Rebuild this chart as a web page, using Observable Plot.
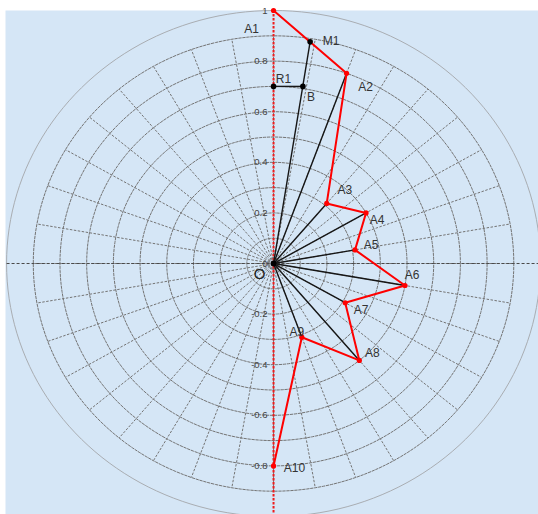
<!DOCTYPE html>
<html>
<head>
<meta charset="utf-8">
<script src="https://cdn.jsdelivr.net/npm/d3@7"></script>
<script src="https://cdn.jsdelivr.net/npm/@observablehq/plot@0.6"></script>
<style>
  html, body { margin: 0; padding: 0; background: #fff; }
  #chart svg { display: block; }
</style>
</head>
<body>
<div id="chart"></div>
<script>
// Polygon vertices A1..A10 in polar form: angle (degrees from +x axis) and radius
const vertexNames  = ["A1", "A2", "A3", "A4", "A5", "A6", "A7", "A8", "A9", "A10"];
const vertexAngles = [90, 70, 50, 30, 10, -10, -30, -50, -70, -90];
const vertexRadii  = [1, 0.8, 0.31, 0.4, 0.31, 0.5, 0.31, 0.5, 0.31, 0.8];

// Construction points (cartesian)
const auxNames = ["M1", "R1", "B"];
const auxX     = [0.137, 0, 0.11];
const auxY     = [0.876, 0.7, 0.7];

// Polar grid
const ringRadii   = [0.1, 0.2, 0.3, 0.4, 0.5, 0.6, 0.7, 0.8, 0.9];
const outerRadius = 1;
const spokeStep   = 10; // degrees between spokes

// Vertical axis ticks
const tickValues = [1, 0.8, 0.6, 0.4, 0.2, 0, -0.2, -0.4, -0.6, -0.8, -1];
const tickLabels = ["1", "0.8", "0.6", "0.4", "0.2", "0", "-0.2", "-0.4", "-0.6", "-0.8", "-1"];

// ---- derived tables ----
const rad = d => d * Math.PI / 180;
const vertices = vertexNames.map((name, i) => ({
  name,
  x: vertexRadii[i] * Math.cos(rad(vertexAngles[i])),
  y: vertexRadii[i] * Math.sin(rad(vertexAngles[i]))
}));
const aux = auxNames.map((name, i) => ({name, x: auxX[i], y: auxY[i]}));
const byName = Object.fromEntries([...vertices, ...aux].map(p => [p.name, p]));

// segments drawn from the origin O
const rays = ["M1", "A2", "A3", "A4", "A5", "A6", "A7", "A8", "A9"].map(n => byName[n]);

function circle(r, key) {
  return d3.range(0, 361, 2).map(a => ({key, x: r * Math.cos(rad(a)), y: r * Math.sin(rad(a))}));
}
const ringPts = ringRadii.flatMap(r => circle(r, r));
const outerPts = circle(outerRadius, "outer");
const spokes = d3.range(0, 360, spokeStep).map(a => ({
  x: ringRadii[ringRadii.length - 1] * Math.cos(rad(a)),
  y: ringRadii[ringRadii.length - 1] * Math.sin(rad(a))
}));
const ticks = tickValues.map((v, i) => ({v, label: tickLabels[i]}));

// label placement (pixel offsets from each point)
const labelOffset = {
  A1: [-22, 19], M1: [21, -1], A2: [19, 14], R1: [10, -7], B: [8, 11],
  A3: [18, -13], A4: [11, 7], A5: [16, -5], A6: [7, -10], A7: [16, 7],
  A8: [13, -7], A9: [-5, -5], A10: [21, 2]
};
const pointLabels = [...vertices, ...aux].map(p =>
  Plot.text([p], {
    x: "x", y: "y", text: "name",
    dx: labelOffset[p.name][0], dy: labelOffset[p.name][1],
    fontSize: 12, fill: "#333"
  })
);

const font = "Liberation Sans, Arial, sans-serif";

const chart = Plot.plot({
  width: 538,
  height: 514,
  marginLeft: 5,
  marginRight: 0,
  marginTop: 10,
  marginBottom: 0,
  style: {background: "#fff", fontFamily: font},
  x: {domain: [-1.004, 0.9925], axis: null},
  y: {domain: [-0.992, 1.0], axis: null},
  marks: [
    Plot.frame({fill: "#d5e6f6", stroke: "none"}),
    // grid
    Plot.line(outerPts, {x: "x", y: "y", stroke: "#a9adb2", strokeWidth: 1}),
    Plot.line(ringPts, {x: "x", y: "y", z: "key", stroke: "#747474", strokeWidth: 1, strokeDasharray: "2.5,1.5"}),
    Plot.link(spokes, {x1: 0, y1: 0, x2: "x", y2: "y", stroke: "#747474", strokeWidth: 1, strokeDasharray: "2.5,1.5"}),
    Plot.link([0], {x1: -outerRadius, x2: outerRadius, y1: 0, y2: 0, stroke: "#4a4a4a", strokeWidth: 1, strokeDasharray: "3,2"}),
    // vertical axis (red dashed)
    Plot.link([0], {x1: 0, x2: 0, y1: -1, y2: 1, stroke: "#ee1c1c", strokeWidth: 2, strokeDasharray: "2.5,1.5"}),
    Plot.text(ticks, {x: 0, y: "v", text: "label", textAnchor: "end", dx: -6, fontSize: 9.5, fill: "#444"}),
    // segments from O
    Plot.link(rays, {x1: 0, y1: 0, x2: "x", y2: "y", stroke: "#161616", strokeWidth: 1.4}),
    Plot.link([[byName.R1, byName.B]], {x1: d => d[0].x, y1: d => d[0].y, x2: d => d[1].x, y2: d => d[1].y, stroke: "#161616", strokeWidth: 1.4}),
    // polygonal path A1..A10
    Plot.line(vertices, {x: "x", y: "y", stroke: "#ff0000", strokeWidth: 2}),
    Plot.dot(vertices, {x: "x", y: "y", r: 2.6, fill: "#ff0000"}),
    Plot.dot(aux, {x: "x", y: "y", r: 2.8, fill: "#000"}),
    Plot.dot([{x: 0, y: 0}], {x: "x", y: "y", r: 3, fill: "#000"}),
    // labels
    ...pointLabels,
    Plot.text([{x: 0, y: 0}], {x: "x", y: "y", text: () => "O", dx: -14, dy: 11, fontSize: 15, fill: "#222"})
  ]
});

document.getElementById("chart").appendChild(chart);
</script>
</body>
</html>
